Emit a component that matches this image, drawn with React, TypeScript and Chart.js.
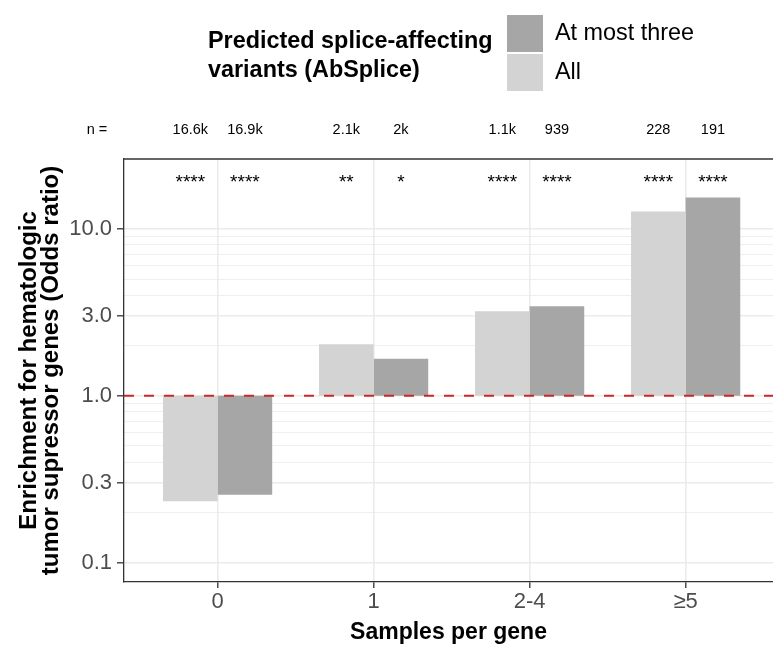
import React, { useEffect, useRef } from "react";
import { Chart, registerables } from "chart.js";

Chart.register(...registerables);

// ---- Data ----
const categories = ["0", "1", "2-4", "≥5"];
const seriesLabels = ["All", "At most three"];
const allValues = [0.233, 2.03, 3.2, 12.7];
const atMostThreeValues = [0.255, 1.665, 3.43, 15.4];
const allCounts = ["16.6k", "2.1k", "1.1k", "228"];
const atMostThreeCounts = ["16.9k", "2k", "939", "191"];
const allStars = ["****", "**", "****", "****"];
const atMostThreeStars = ["****", "*", "****", "****"];
const majorTicks = [0.1, 0.3, 1, 3, 10];
const minorTicks = [0.2, 0.4, 0.5, 0.6, 0.7, 0.8, 0.9, 2, 4, 5, 6, 7, 8, 9];
const referenceValue = 1;
const legendTitle = ["Predicted splice-affecting", "variants (AbSplice)"];
const xTitle = "Samples per gene";
const yTitle = ["Enrichment for hematologic", "tumor supressor genes (Odds ratio)"];
const countPrefix = "n =";

const FONT = "'Liberation Sans', Arial, Helvetica, sans-serif";
const LIGHT = "#D3D3D3";
const DARK = "#A6A6A6";
const GRID = "#EBEBEB";
const AXIS = "#333333";

const isMajor = (v: number) => majorTicks.some((m) => Math.abs(m - v) < 1e-9);

const overlayPlugin = {
  id: "overlay",
  afterDatasetsDraw(chart: any) {
    const { ctx, chartArea, scales } = chart;
    const y = scales.y.getPixelForValue(referenceValue);
    ctx.save();
    ctx.strokeStyle = "#CD2626";
    ctx.lineWidth = 2;
    ctx.setLineDash([10, 10]);
    ctx.beginPath();
    ctx.moveTo(chartArea.left, y);
    ctx.lineTo(chartArea.right, y);
    ctx.stroke();
    ctx.restore();
  },
  afterDraw(chart: any) {
    const { ctx, chartArea } = chart;
    ctx.save();
    // top panel border
    ctx.strokeStyle = AXIS;
    ctx.lineWidth = 1.3;
    ctx.beginPath();
    ctx.moveTo(chartArea.left, chartArea.top);
    ctx.lineTo(chartArea.right, chartArea.top);
    ctx.stroke();

    // counts and significance
    const counts = [allCounts, atMostThreeCounts];
    const stars = [allStars, atMostThreeStars];
    ctx.fillStyle = "#000";
    ctx.textAlign = "center";
    for (let d = 0; d < 2; d++) {
      const meta = chart.getDatasetMeta(d);
      meta.data.forEach((bar: any, i: number) => {
        ctx.font = `14.5px ${FONT}`;
        ctx.textBaseline = "middle";
        ctx.fillText(counts[d][i], bar.x, chartArea.top - 29);
        ctx.font = `19px ${FONT}`;
        ctx.textBaseline = "alphabetic";
        ctx.fillText(stars[d][i], bar.x, chartArea.top + 29);
      });
    }
    ctx.font = `14.5px ${FONT}`;
    ctx.textBaseline = "middle";
    ctx.fillText(countPrefix, 97, chartArea.top - 29);

    // legend
    ctx.textAlign = "left";
    ctx.font = `bold 23.4px ${FONT}`;
    ctx.fillText(legendTitle[0], 208, 42);
    ctx.fillText(legendTitle[1], 208, 71);
    const keys = [
      { color: DARK, label: seriesLabels[1], y: 15 },
      { color: LIGHT, label: seriesLabels[0], y: 54 },
    ];
    ctx.font = `23.4px ${FONT}`;
    keys.forEach((k) => {
      ctx.fillStyle = k.color;
      ctx.fillRect(507, k.y, 36, 37);
      ctx.fillStyle = "#000";
      ctx.fillText(k.label, 555, k.y + 19);
    });
    ctx.restore();
  },
};

export default function App() {
  const ref = useRef<HTMLCanvasElement | null>(null);

  useEffect(() => {
    document.body.style.margin = "0";
    if (!ref.current) return;
    Chart.defaults.font.family = FONT;
    const chart = new Chart(ref.current, {
      type: "bar",
      data: {
        datasets: [
          {
            label: seriesLabels[0],
            data: allValues.map((v, i) => ({ x: i, y: [referenceValue, v] })) as any,
            backgroundColor: LIGHT,
            borderWidth: 0,
            categoryPercentage: 0.7,
            barPercentage: 1,
          },
          {
            label: seriesLabels[1],
            data: atMostThreeValues.map((v, i) => ({ x: i, y: [referenceValue, v] })) as any,
            backgroundColor: DARK,
            borderWidth: 0,
            categoryPercentage: 0.7,
            barPercentage: 1,
          },
        ],
      },
      options: {
        animation: false,
        responsive: false,
        devicePixelRatio: 1,
        layout: { padding: { top: 159, left: 0, right: 0, bottom: 0 } },
        plugins: {
          legend: { display: false },
          tooltip: { enabled: false },
        },
        scales: {
          x: {
            type: "linear",
            offset: false,
            min: -0.6,
            max: 3.56,
            afterBuildTicks: (s: any) => {
              s.ticks = categories.map((_, i) => ({ value: i }));
            },
            afterFit: (s: any) => {
              s.height = 64;
            },
            ticks: {
              callback: (v: any) => categories[v as number] ?? "",
              font: { size: 22, family: FONT },
              color: "#4D4D4D",
              padding: 1,
              autoSkip: false,
              maxRotation: 0,
            },
            grid: {
              offset: false,
              color: GRID,
              lineWidth: 1.6,
              tickColor: AXIS,
              tickLength: 6,
              tickWidth: 1.3,
            },
            border: { color: AXIS, width: 1.3 },
            title: {
              display: true,
              text: xTitle,
              color: "#000",
              font: { size: 23, weight: "bold", family: FONT, lineHeight: "24px" },
              padding: { top: 0, bottom: 1 },
            },
          },
          y: {
            type: "logarithmic",
            min: 0.0764,
            max: 26.2,
            afterBuildTicks: (s: any) => {
              s.ticks = [...majorTicks, ...minorTicks]
                .sort((a, b) => a - b)
                .map((v) => ({ value: v }));
            },
            afterFit: (s: any) => {
              s.width = 124;
            },
            ticks: {
              callback: (v: any) => (isMajor(v as number) ? (v as number).toFixed(1) : ""),
              font: { size: 22, family: FONT },
              color: "#4D4D4D",
              padding: 5,
              autoSkip: false,
            },
            grid: {
              color: GRID,
              lineWidth: (c: any) => (isMajor(c.tick?.value) ? 1.6 : 0.8),
              tickColor: (c: any) => (isMajor(c.tick?.value) ? AXIS : "rgba(0,0,0,0)"),
              tickLength: 7,
              tickWidth: 1.3,
            },
            border: { color: AXIS, width: 1.3 },
            title: {
              display: true,
              text: yTitle,
              color: "#000",
              font: { size: 24, weight: "bold", family: FONT, lineHeight: "22px" },
              padding: { top: 18, bottom: 0 },
            },
          },
        },
      },
      plugins: [overlayPlugin],
    });
    return () => chart.destroy();
  }, []);

  return (
    <div style={{ width: 773, height: 646 }}>
      <canvas ref={ref} width={773} height={646} style={{ display: "block" }} />
    </div>
  );
}
